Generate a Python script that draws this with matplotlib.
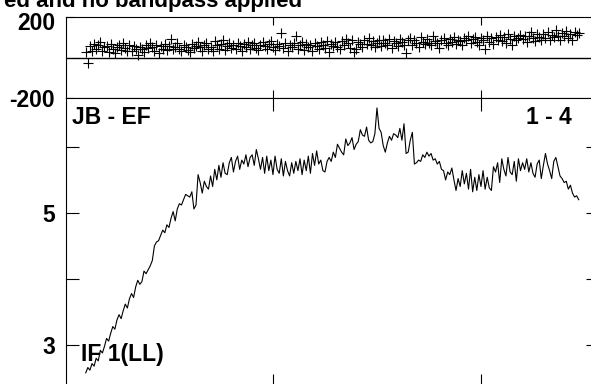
import numpy as np
import matplotlib
matplotlib.use("Agg")
import matplotlib.pyplot as plt
import matplotlib.transforms as mtransforms

plt.rcParams['font.family'] = ['Liberation Sans', 'DejaVu Sans']
plt.rcParams['font.weight'] = 'bold'

# channels 10..247
channels = np.arange(10, 248)

amplitude = [
    2.58, 2.66, 2.62, 2.72, 2.68, 2.80, 2.76, 2.92, 2.88, 2.98,
    3.10, 3.06, 3.18, 3.28, 3.24, 3.38, 3.46, 3.40, 3.52, 3.62,
    3.56, 3.70, 3.78, 3.72, 3.88, 3.98, 3.92, 3.96, 4.12, 4.08,
    4.14, 4.20, 4.28, 4.50, 4.56, 4.58, 4.66, 4.74, 4.70, 4.82,
    4.78, 4.92, 5.02, 4.88, 5.06, 5.14, 5.12, 5.20, 5.28, 5.26,
    5.24, 5.32, 5.06, 5.12, 5.58, 5.46, 5.30, 5.48, 5.40, 5.36,
    5.56, 5.40, 5.66, 5.50, 5.72, 5.54, 5.76, 5.60, 5.58, 5.76,
    5.84, 5.62, 5.78, 5.86, 5.66, 5.80, 5.74, 5.88, 5.70, 5.84,
    5.88, 5.72, 5.96, 5.82, 5.66, 5.84, 5.60, 5.86, 5.64, 5.80,
    5.58, 5.86, 5.66, 5.60, 5.82, 5.56, 5.78, 5.64, 5.56, 5.76,
    5.60, 5.78, 5.64, 5.82, 5.58, 5.80, 5.64, 5.86, 5.60, 5.90,
    5.72, 5.94, 5.74, 5.80, 5.64, 5.62, 5.78, 5.84, 5.78, 5.92,
    5.84, 6.04, 5.98, 5.92, 5.88, 6.12, 6.02, 6.06, 6.14, 5.96,
    6.04, 6.08, 6.26, 6.18, 6.16, 6.30, 6.10, 6.06, 6.08, 6.20,
    6.59, 6.28, 6.22, 6.02, 5.92, 6.06, 6.16, 6.10, 6.20, 6.18,
    6.14, 6.28, 6.10, 6.35, 5.90, 5.92, 6.10, 6.22, 5.74, 5.76,
    5.80, 5.78, 5.88, 5.84, 5.92, 5.86, 5.90, 5.80, 5.82, 5.74,
    5.78, 5.66, 5.64, 5.50, 5.62, 5.58, 5.68, 5.50, 5.34, 5.52,
    5.40, 5.64, 5.44, 5.60, 5.36, 5.66, 5.32, 5.54, 5.34, 5.58,
    5.40, 5.64, 5.36, 5.54, 5.38, 5.34, 5.70, 5.62, 5.76, 5.46,
    5.82, 5.66, 5.56, 5.84, 5.62, 5.58, 5.78, 5.48, 5.82, 5.64,
    5.76, 5.66, 5.82, 5.62, 5.76, 5.60, 5.54, 5.74, 5.80, 5.52,
    5.72, 5.90, 5.74, 5.64, 5.52, 5.78, 5.84, 5.70, 5.56, 5.52,
    5.46, 5.48, 5.36, 5.42, 5.30, 5.24, 5.26, 5.20,
]

phase = [
    25, -25, 55, 30, 68, 40, 60, 75, 32, 50,
    58, 28, 66, 40, 22, 52, 64, 36, 72, 46,
    34, 60, 30, 56, 44, 10, 52, 40, 28, 64,
    46, 70, 50, 32, 62, 22, 56, 42, 68, 36,
    58, 90, 44, 52, 72, 42, 30, 64, 54, 38,
    28, 68, 46, 58, 76, 50, 34, 64, 70, 40,
    54, 32, 80, 60, 44, 68, 86, 38, 58, 70,
    48, 64, 40, 74, 58, 30, 68, 50, 78, 44,
    60, 70, 46, 36, 64, 76, 56, 42, 68, 82,
    50, 38, 68, 58, 122, 46, 72, 34, 64, 54,
    74, 108, 44, 60, 78, 36, 68, 50, 64, 30,
    72, 56, 42, 78, 62, 46, 82, 28, 68, 58,
    76, 50, 40, 80, 60, 90, 70, 46, 84, 26,
    44, 78, 66, 54, 84, 68, 94, 60, 80, 50,
    74, 86, 56, 88, 72, 62, 92, 46, 82, 70,
    58, 90, 76, 64, 24, 84, 96, 62, 88, 72,
    54, 100, 78, 66, 90, 74, 60, 104, 80, 70,
    46, 86, 98, 72, 62, 92, 78, 102, 66, 88,
    80, 60, 96, 84, 106, 70, 90, 100, 76, 62,
    96, 84, 44, 104, 78, 94, 68, 100, 88, 110,
    80, 102, 74, 114, 92, 62, 104, 84, 98, 112,
    90, 108, 76, 104, 124, 94, 82, 116, 102, 88,
    118, 98, 128, 86, 112, 100, 136, 106, 88, 122,
    104, 130, 96, 118, 84, 126, 110, 120,
]

W, H = 591, 384
fs = 16.5
fig = plt.figure(figsize=(W / 100, H / 100), dpi=100)

left = 66 / W
width = (598.5 - 66) / W
ax_ph = fig.add_axes([left, (H - 98) / H, width, 81 / H])
ax_amp = fig.add_axes([left, -2 / H, width, 288 / H])

# phase panel
ax_ph.plot(channels, phase, '+', color='black', markersize=7, markeredgewidth=0.8)
ax_ph.axhline(0, color='black', linewidth=1)
ax_ph.set_ylim(-200, 200)
ax_ph.set_yticks([-200, 200])
ax_ph.set_yticklabels(['-200', '200'])

# amplitude panel
ax_amp.plot(channels, amplitude, color='black', linewidth=0.8)
ax_amp.set_ylim(2.38, 6.74)
ax_amp.set_yticks([3, 4, 5, 6])
ax_amp.set_yticklabels(['3', '', '5', ''])

for ax, tl in [(ax_ph, 6), (ax_amp, 9)]:
    ax.set_xlim(0.5, 256.5)
    ax.set_xticks([100, 200])
    ax.set_xticklabels([])
    ax.tick_params(direction='in', length=tl, width=0.8, top=True, right=True,
                   labelsize=fs, pad=8)
    for s in ax.spines.values():
        s.set_linewidth(0.8)

# nudge the top "200" label down a little, as in the original
top_lab = ax_ph.get_yticklabels()[1]
top_lab.set_transform(top_lab.get_transform() +
                      mtransforms.ScaledTranslation(0, -4 / 100, fig.dpi_scale_trans))

fig.text(72 / W, 1 - 118 / H, 'JB - EF', fontsize=fs, fontweight='bold',
         va='center', ha='left')
fig.text(572 / W, 1 - 118 / H, '1 - 4', fontsize=fs, fontweight='bold',
         va='center', ha='right')
fig.text(81 / W, 1 - 355 / H, 'IF 1(LL)', fontsize=fs, fontweight='bold',
         va='center', ha='left')

fig.text(302 / W, 1 - 7 / H, 'ed and no bandpass applied',
         fontsize=16, fontweight='bold', ha='right', va='baseline')

fig.savefig('out.png', dpi=100)
